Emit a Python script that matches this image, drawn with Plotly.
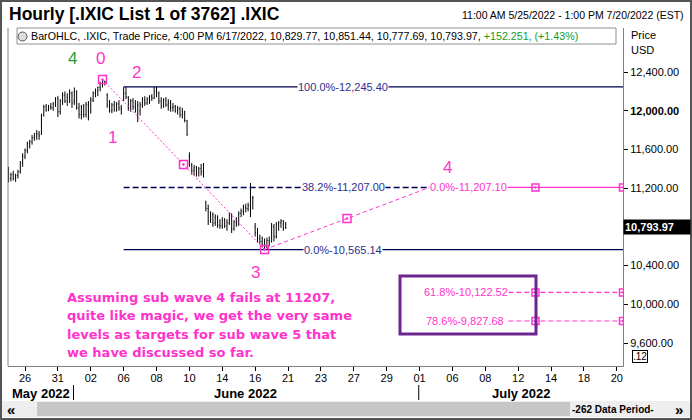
import plotly.graph_objects as go

# ---------------- data ----------------
# trading-session index for each day of bars (0 = 26 May 2022), 7 hourly bars per session
session_index = [-1, 0, 1, 2, 3, 4, 5, 6, 7, 8, 9, 10, 11, 12, 13, 14, 15]
bars_per_session = 7

opens = [
    11380, 11300, 11340, 11300, 11330, 11370, 11460,   # 5/25
    11530, 11590, 11660, 11680, 11720, 11740, 11760,   # 5/26
    11760, 11950, 12040, 12010, 12040, 12030, 12070,   # 5/27
    12130, 11990, 12100, 12160, 12100, 12140, 12180,   # 5/31
    12100, 12200, 12030, 11960, 12040, 11960, 12060,   # 6/1
    11990, 12110, 12180, 12210, 12240, 12280, 12300,   # 6/2
    12160, 12060, 12000, 12060, 12010, 12070, 12030,   # 6/3
    12150, 12180, 12140, 12030, 12100, 12040, 12000,   # 6/6
    12000, 12060, 12110, 12080, 12120, 12150, 12130,   # 6/7
    12200, 12180, 12100, 12050, 12110, 12060, 12080,   # 6/8
    12030, 12040, 12000, 12020, 11960, 11990, 11900,   # 6/9
    11530, 11440, 11380, 11410, 11360, 11400, 11370,   # 6/10
    11050, 10990, 10860, 10930, 10840, 10900, 10820,   # 6/13
    10810, 10870, 10810, 10840, 10920, 10780, 10850,   # 6/14
    10830, 10940, 10960, 11000, 10990, 11020, 11100,   # 6/15
    10800, 10740, 10680, 10650, 10620, 10600, 10660,   # 6/16
    10646, 10800, 10700, 10820, 10840, 10860, 10829.77,  # 6/17
]
highs = [
    11420, 11360, 11380, 11350, 11390, 11480, 11560,
    11610, 11680, 11700, 11750, 11770, 11800, 11790,
    11970, 12060, 12070, 12060, 12080, 12090, 12140,
    12150, 12120, 12190, 12200, 12180, 12220, 12200,
    12240, 12210, 12080, 12060, 12070, 12090, 12100,
    12140, 12200, 12230, 12250, 12300, 12322, 12310,
    12180, 12110, 12080, 12100, 12090, 12110, 12060,
    12245, 12245, 12150, 12120, 12130, 12110, 12100,
    12090, 12140, 12150, 12140, 12160, 12170, 12245,
    12245, 12200, 12140, 12130, 12140, 12120, 12110,
    12080, 12060, 12050, 12040, 12030, 12000, 11905,
    11570, 11460, 11440, 11430, 11420, 11450, 11460,
    11070, 11030, 10960, 10950, 10930, 10920, 10880,
    10900, 10890, 10880, 10950, 10940, 10870, 10900,
    10960, 10990, 11030, 11040, 11050, 11253, 11120,
    10840, 10790, 10720, 10700, 10680, 10690, 10700,
    10840, 10830, 10850, 10860, 10880, 10870, 10851.44,
]
lows = [
    11260, 11270, 11280, 11265, 11300, 11350, 11420,
    11500, 11560, 11610, 11650, 11690, 11700, 11700,
    11750, 11940, 11990, 11995, 12010, 12000, 12040,
    11935, 11960, 12060, 12080, 12050, 12080, 12030,
    12060, 12010, 11920, 11910, 11930, 11930, 11900,
    11970, 12090, 12140, 12150, 12200, 12240, 12260,
    12030, 11980, 11975, 11990, 11990, 12000, 11960,
    12100, 12120, 12000, 11990, 12010, 11980, 11883,
    11950, 12030, 12050, 12060, 12070, 12100, 12120,
    12140, 12070, 12020, 12030, 12040, 12000, 11990,
    11990, 11980, 11960, 11930, 11920, 11880, 11740,
    11420, 11340, 11330, 11320, 11320, 11330, 11310,
    10960, 10820, 10840, 10800, 10810, 10790, 10780,
    10780, 10790, 10760, 10820, 10737, 10760, 10800,
    10810, 10900, 10920, 10950, 10960, 10900, 10980,
    10700, 10640, 10620, 10590, 10565.14, 10580, 10600,
    10640, 10650, 10680, 10760, 10790, 10760, 10777.69,
]
closes = [
    11300, 11340, 11300, 11330, 11370, 11460, 11530,
    11590, 11660, 11680, 11720, 11740, 11760, 11740,
    11950, 12040, 12010, 12040, 12030, 12070, 12130,
    11990, 12100, 12160, 12100, 12140, 12180, 12080,
    12200, 12030, 11960, 12040, 11960, 12060, 11990,
    12110, 12180, 12210, 12240, 12280, 12300, 12300,
    12060, 12000, 12060, 12010, 12070, 12030, 12010,
    12180, 12140, 12030, 12100, 12040, 12000, 12060,
    12060, 12110, 12080, 12120, 12150, 12130, 12200,
    12180, 12100, 12050, 12110, 12060, 12080, 12030,
    12040, 12000, 12020, 11960, 11990, 11900, 11754,
    11440, 11380, 11410, 11360, 11400, 11370, 11340,
    10990, 10860, 10930, 10840, 10900, 10820, 10810,
    10870, 10810, 10840, 10920, 10780, 10850, 10830,
    10940, 10960, 11000, 10990, 11020, 11100, 11099,
    10740, 10680, 10650, 10620, 10600, 10660, 10646,
    10800, 10700, 10820, 10840, 10860, 10780, 10793.97,
]

tick_sessions = list(range(0, 37, 2))
tick_labels = ['26', '31', '02', '06', '08', '10', '14', '16', '21', '23',
               '27', '29', '01', '06', '08', '12', '14', '18', '20']
month_labels = ['May 2022', 'June 2022', 'July 2022']
month_starts = [3, 24]          # sessions where June / July begin

price_ticks = [9600, 10000, 10400, 11200, 11600, 12000, 12400]

fib_levels = [12245.40, 11207.00, 10565.14]
fib_texts = ['100.0%-12,245.40', '38.2%-11,207.00', '0.0%-10,565.14']
proj_levels = [11207.10, 10122.52, 9827.68]
proj_texts = ['0.0%-11,207.10', '61.8%-10,122.52', '78.6%-9,827.68']

wave_x = [4 + 5 / 7, 14 + 4 / 7, 24.6]       # wave 0, wave 3, projected wave 4
wave_y = [12322.0, 10565.14, 11207.10]
last_close = 10793.97

note_lines = ['Assuming sub wave 4 fails at 11207,',
              'quite like magic, we get the very same',
              'levels as targets for sub wave 5 that',
              'we have discussed so far.']

# ---------------- geometry helpers ----------------
PL, PR, PT, PB = 8, 623, 28, 366      # plot area in pixels
X0, XS = 25.0, 16.44                  # session 0 pixel, pixels per session
Y0, YS = 72.0, 0.0968                 # 12,400 pixel, pixels per point


def sx(X):
    return (X - X0) / XS


def sy(Y):
    return 12400 - (Y - Y0) / YS


def pxp(X):
    return (X - PL) / (PR - PL)


def pyp(Y):
    return (PB - Y) / (PB - PT)


xmin, xmax = sx(PL), sx(PR)
ymin, ymax = sy(PB), sy(PT)

FONT = 'Liberation Sans, Arial, sans-serif'
PINK = '#ff33cc'
NAVY = '#000050'
NAVY_T = '#2e2e8e'

bar_x = [s + j / bars_per_session for s in session_index for j in range(bars_per_session)]

fig = go.Figure()
fig.add_trace(go.Ohlc(
    x=bar_x, open=opens, high=highs, low=lows, close=closes,
    increasing=dict(line=dict(color='black', width=1)),
    decreasing=dict(line=dict(color='black', width=1)),
    tickwidth=0.25, hoverinfo='skip'))

# Fibonacci retracement lines (navy)
fib_start = 6
fib_end = [xmax, wave_x[2], xmax]
fib_dash = ['solid', '6px,3px', 'solid']
for lvl, xe, d in zip(fib_levels, fib_end, fib_dash):
    fig.add_trace(go.Scatter(x=[fib_start, xe], y=[lvl, lvl], mode='lines',
                             line=dict(color=NAVY, width=1.3, dash=d), hoverinfo='skip'))

# projection lines (pink)
proj_start = [wave_x[2], 29.4, 29.4]
proj_dash = ['solid', '5px,3px', '5px,3px']
for lvl, xs0, d in zip(proj_levels, proj_start, proj_dash):
    fig.add_trace(go.Scatter(x=[xs0, xmax], y=[lvl, lvl], mode='lines',
                             line=dict(color=PINK, width=1.2, dash=d), hoverinfo='skip'))
    fig.add_trace(go.Scatter(x=[31.05, xmax], y=[lvl, lvl], mode='markers',
                             marker=dict(symbol='square-open-dot', size=7, color=PINK,
                                         line=dict(width=1.5, color=PINK)),
                             hoverinfo='skip'))

# wave lines
fig.add_trace(go.Scatter(x=[wave_x[0], wave_x[1]], y=[wave_y[0], wave_y[1]], mode='lines',
                         line=dict(color=PINK, width=1, dash='2px,2px'), hoverinfo='skip'))
fig.add_trace(go.Scatter(x=[wave_x[1], wave_x[2]], y=[wave_y[1], wave_y[2]], mode='lines',
                         line=dict(color=PINK, width=1, dash='4px,3px'), hoverinfo='skip'))
mx = [wave_x[0], (wave_x[0] + wave_x[1]) / 2, wave_x[1], (wave_x[1] + wave_x[2]) / 2]
my = [wave_y[0], (wave_y[0] + wave_y[1]) / 2, wave_y[1], (wave_y[1] + wave_y[2]) / 2]
fig.add_trace(go.Scatter(x=mx, y=my, mode='markers',
                         marker=dict(symbol='square-open-dot', size=8, color=PINK,
                                     line=dict(width=1.5, color=PINK)),
                         hoverinfo='skip'))

ann = []
shapes = []

# fib labels
for lvl, t in zip(fib_levels, fib_texts):
    ann.append(dict(x=sx(343), y=lvl, xref='x', yref='y', text=t, showarrow=False,
                    font=dict(family=FONT, size=11, color=NAVY_T), bgcolor='white', borderpad=0))
proj_cx = [sx(468), sx(466), sx(465)]
for lvl, t, cx in zip(proj_levels, proj_texts, proj_cx):
    ann.append(dict(x=cx, y=lvl, xref='x', yref='y', text=t, showarrow=False,
                    font=dict(family=FONT, size=11, color=PINK), bgcolor='white', borderpad=0))

# wave numbers
for t, X, Y, c in [('4', 72, 58, '#2a9d3a'), ('0', 100, 58, PINK), ('2', 136, 72, PINK),
                   ('1', 112, 137, PINK), ('3', 255, 272, PINK), ('4', 447, 167, PINK)]:
    ann.append(dict(x=pxp(X), y=pyp(Y), xref='paper', yref='paper', text=t, showarrow=False,
                    font=dict(family=FONT, size=17, color=c)))

# commentary (one annotation per line)
for i, line in enumerate(note_lines):
    ann.append(dict(x=pxp(65), y=pyp(297 + 18.5 * i), xref='paper', yref='paper',
                    xanchor='left', showarrow=False, text='<b>' + line + '</b>',
                    font=dict(family='DejaVu Sans, Verdana, sans-serif', size=13, color=PINK)))

# purple box
shapes.append(dict(type='rect', xref='x', yref='y', x0=sx(400), x1=sx(536), y0=sy(334), y1=sy(276),
                   line=dict(color='#6b2590', width=3)))

# header texts
ann.append(dict(x=pxp(7), y=pyp(14), xref='paper', yref='paper', xanchor='left', showarrow=False,
                text='<b>Hourly [.IXIC List 1 of 3762] .IXIC</b>',
                font=dict(family=FONT, size=17.5, color='black')))
ann.append(dict(x=pxp(686), y=pyp(15), xref='paper', yref='paper', xanchor='right', showarrow=False,
                text='11:00 AM 5/25/2022 - 1:00 PM 7/20/2022 (EST)',
                font=dict(family=FONT, size=10.5, color='black')))
shapes.append(dict(type='rect', xref='paper', yref='paper', x0=pxp(17), x1=pxp(616),
                   y0=pyp(44), y1=pyp(28), line=dict(color='#909090', width=1), fillcolor='white'))
shapes.append(dict(type='circle', xref='paper', yref='paper', x0=pxp(18), x1=pxp(27),
                   y0=pyp(41), y1=pyp(32), line=dict(color='#555555', width=1), fillcolor='#dddddd'))
ann.append(dict(x=pxp(29), y=pyp(36), xref='paper', yref='paper', xanchor='left', showarrow=False,
                text='BarOHLC, .IXIC, Trade Price, 4:00 PM 6/17/2022, 10,829.77, 10,851.44, '
                     '10,777.69, 10,793.97, <span style="color:#1a9a1a">+152.251, (+1.43%)</span>',
                font=dict(family=FONT, size=10.7, color='black')))
ann.append(dict(x=pxp(629), y=pyp(35), xref='paper', yref='paper', xanchor='left', showarrow=False,
                text='Price', font=dict(family=FONT, size=11, color='black')))
ann.append(dict(x=pxp(629), y=pyp(50), xref='paper', yref='paper', xanchor='left', showarrow=False,
                text='USD', font=dict(family=FONT, size=11, color='black')))

# last price label
ann.append(dict(x=1.0, y=last_close, xref='paper', yref='y', xanchor='left', showarrow=False,
                text='<b>10,793.97</b>', bgcolor='black', borderpad=1, width=64, align='left',
                font=dict(family=FONT, size=11, color='white')))
ann.append(dict(x=pxp(640), y=pyp(356), xref='paper', yref='paper', showarrow=False, text='.12',
                bordercolor='black', borderwidth=1, borderpad=0,
                font=dict(family=FONT, size=10, color='black')))

# month labels and separators
for t, X in zip(month_labels, [41, 246, 521]):
    ann.append(dict(x=pxp(X), y=pyp(393), xref='paper', yref='paper', showarrow=False,
                    text='<b>' + t + '</b>', font=dict(family=FONT, size=13, color='black')))
for s in month_starts:
    X = X0 + XS * (s - 0.05)
    shapes.append(dict(type='line', xref='paper', yref='paper', x0=pxp(X), x1=pxp(X),
                       y0=pyp(385), y1=pyp(400), line=dict(color='black', width=1)))

# scroll bar
shapes.append(dict(type='rect', xref='paper', yref='paper', x0=pxp(2), x1=pxp(690),
                   y0=pyp(417), y1=pyp(401), line=dict(width=0), fillcolor='#eeeeee'))
shapes.append(dict(type='rect', xref='paper', yref='paper', x0=pxp(37), x1=pxp(570),
                   y0=pyp(416), y1=pyp(402), line=dict(width=0), fillcolor='#c6c6c6'))
ann.append(dict(x=pxp(11), y=pyp(409), xref='paper', yref='paper', showarrow=False, text='<b>«</b>',
                font=dict(family=FONT, size=15, color='black')))
ann.append(dict(x=pxp(679), y=pyp(409), xref='paper', yref='paper', showarrow=False, text='<b>»</b>',
                font=dict(family=FONT, size=15, color='black')))
ann.append(dict(x=pxp(613), y=pyp(409), xref='paper', yref='paper', showarrow=False,
                text='<b>-262 Data Period-</b>', font=dict(family=FONT, size=10, color='black')))

for a in ann:
    a.setdefault('xanchor', 'center')
    a.setdefault('yanchor', 'middle')

# plot border and outer frame
shapes.append(dict(type='line', xref='paper', yref='paper', x0=0, x1=0, y0=0, y1=1,
                   line=dict(color='#808080', width=1)))
shapes.append(dict(type='rect', xref='paper', yref='paper', x0=pxp(1), x1=pxp(691),
                   y0=pyp(419), y1=pyp(1), line=dict(color='#555555', width=2)))

fig.update_layout(
    width=692, height=420,
    margin=dict(l=PL, r=692 - PR, t=PT, b=420 - PB),
    paper_bgcolor='white', plot_bgcolor='white',
    showlegend=False, hovermode=False,
    annotations=ann, shapes=shapes,
    xaxis=dict(range=[xmin, xmax], tickvals=tick_sessions, ticktext=tick_labels,
               ticks='outside', ticklen=4, tickcolor='black', showgrid=False, zeroline=False,
               showline=True, linecolor='#808080', rangeslider=dict(visible=False),
               ticklabelstandoff=-2,
               tickfont=dict(family=FONT, size=11, color='black'), fixedrange=True),
    yaxis=dict(range=[ymin, ymax], side='right', tickvals=price_ticks,
               ticktext=['<b>12,000.00</b>' if v == 12000 else f'{v:,.2f}' for v in price_ticks],
               ticks='outside', ticklen=4, tickcolor='black', showgrid=False, zeroline=False,
               showline=True, linecolor='#808080',
               tickfont=dict(family=FONT, size=11, color='black'), fixedrange=True),
)

fig.write_html('out.html')
